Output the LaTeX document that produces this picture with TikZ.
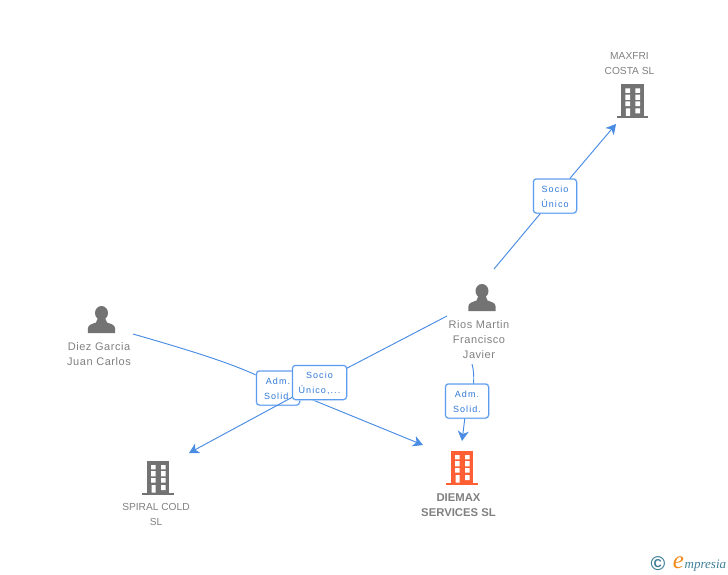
\documentclass[tikz,border=0pt]{standalone}
\usepackage{fontspec}
\setmainfont{Liberation Sans}
\newfontfamily\namefont[LetterSpace=5]{Liberation Sans}
\newfontfamily\boxfont[LetterSpace=12]{Liberation Sans}
\newfontfamily\logofont{Liberation Serif}
\usetikzlibrary{arrows.meta,calc}
\definecolor{linkblue}{HTML}{4A8CE4}
\definecolor{boxblue}{HTML}{5C9CEE}
\definecolor{glowblue}{HTML}{BBD6F7}
\definecolor{boxtext}{HTML}{2F78D8}
\definecolor{namegray}{HTML}{808080}
\definecolor{icongray}{HTML}{737373}
\definecolor{iconred}{HTML}{FF5F33}
\definecolor{logoteal}{HTML}{3F7F96}
\definecolor{logoorange}{HTML}{F08A1D}
\newcommand\boxtop{\rule{0pt}{8.6pt}}
\tikzset{
  link/.style={draw=linkblue,line width=0.95pt},
  tip/.style={-{Stealth[length=10pt,width=11pt,inset=3pt]}},
  rolebox/.style={draw=boxblue,line width=1pt,fill=white,rounded corners=3pt,
    preaction={draw=glowblue,line width=2pt},
    minimum height=34pt,inner sep=0pt,align=center,text=boxtext,
    font=\fontsize{9}{15}\boxfont},
  namelabel/.style={text=namegray,align=center,inner sep=0pt,
    font=\fontsize{11}{15}\namefont},
  capslabel/.style={text=namegray,align=center,inner sep=0pt,
    font=\fontsize{10.2}{15}\selectfont},
  mainlabel/.style={text=namegray,align=center,inner sep=0pt,
    font=\fontsize{11.3}{15}\bfseries},
  building/.pic={
    \fill[pic actions] (-11.2,-34) rectangle (11.2,-1);
    \fill[pic actions] (-15.8,-2.5) rectangle (15.8,0);
    \fill[white]
      (-7,-30) rectangle (-2.3,-25.6) (3,-30) rectangle (7.7,-25.6)
      (-7,-23.8) rectangle (-2.3,-18.6) (3,-23.8) rectangle (7.7,-18.6)
      (-7,-17) rectangle (-2.3,-12.3) (3,-17) rectangle (7.7,-12.3)
      (-6.5,-10) rectangle (-2.3,-2.5) (3,-10) rectangle (7.7,-5);
  },
  person/.pic={
    \fill[pic actions] (0,-20) ellipse (6.5 and 7);
    \fill[pic actions] (-13.6,0) -- (-13.6,-4.5)
      .. controls (-13.6,-8.5) and (-9,-9) .. (-5.5,-10.5)
      -- (-3.6,-15) -- (3.6,-15) -- (5.5,-10.5)
      .. controls (9,-9) and (13.6,-8.5) .. (13.6,-4.5) -- (13.6,0) -- cycle;
  }
}
\begin{document}
\begin{tikzpicture}[x=1pt,y=-1pt]
\useasboundingbox (0,0) rectangle (728,575);
% icons
\pic[icongray] at (632.3,118.5) {building};
\pic[icongray] at (158,495) {building};
\pic[iconred] at (462,485) {building};
\pic[icongray] at (482,311) {person};
\pic[icongray] at (101.5,333) {person};
% names
\node[capslabel] (maxfri) at (629.5,64) {MAXFRI\\COSTA SL};
\node[namelabel] (rios) at (479,340) {Rios Martin\\Francisco\\Javier};
\node[namelabel] (diez) at (99,354.5) {Diez Garcia\\Juan Carlos};
\node[capslabel] (spiral) at (156,514.5) {SPIRAL COLD\\SL};
\node[mainlabel] (diemax) at (458.5,505) {DIEMAX\\SERVICES SL};
% connector ends
\coordinate (riosNE) at (494,269);
\coordinate (riosW) at (447,316);
\coordinate (riosS) at (472,364);
\coordinate (diezE) at (133,334);
\coordinate (maxfriTip) at (616,124);
\coordinate (diemaxTipA) at (423,445);
\coordinate (diemaxTipB) at (462,441);
\coordinate (spiralTip) at (189,453);
% role boxes and connectors
\node[rolebox,minimum width=43pt] (lblMax) at (555,196) {\boxtop Socio\\Único};
\draw[link] (riosNE) -- (lblMax);
\draw[link,tip] (lblMax) -- (maxfriTip);
\node[rolebox,minimum width=43pt] (lblRios) at (467,401) {\boxtop Adm.\\Solid.};
\draw[link] (riosS) .. controls (474,371) and (474,378) .. ($(lblRios.north)+(6.5,0)$);
\draw[link,tip] (lblRios) -- (diemaxTipB);
\draw[link] (diezE) .. controls (185,349) and (225,361) .. (256,375);
\node[rolebox,minimum width=43pt] (lblDiez) at (278,388) {\boxtop Adm.\\Solid.};
\draw[link,tip] ($(lblDiez.east)+(0,6.7)$) -- (diemaxTipA);
\node[rolebox,minimum width=54pt] (lblSocio) at (319.5,382.5) {\boxtop Socio\\Único,...};
\draw[link] (riosW) -- (lblSocio);
\draw[link,tip] (lblSocio) -- (spiralTip);
% logo
\node[inner sep=0pt,text=logoteal,font=\fontsize{20}{20}\bfseries] (copy) at (658,564) {©};
\node[inner sep=0pt,text=logoorange,font=\fontsize{25}{25}\logofont\itshape] (logoE) at (678.5,563) {e};
\node[inner sep=0pt,text=logoteal,anchor=base west,font=\fontsize{13}{13}\logofont\itshape] (logoText) at (684.5,568) {mpresia};
\end{tikzpicture}
\end{document}
